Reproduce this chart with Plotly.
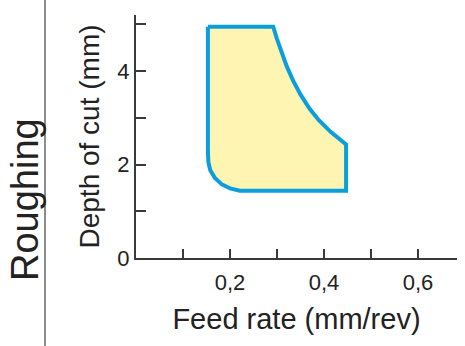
import plotly.graph_objects as go

# Boundary of the roughing window (feed rate mm/rev, depth of cut mm)
feed = [0.153, 0.292, 0.2995, 0.3094, 0.3208, 0.3340, 0.3499, 0.3691, 0.3891, 0.4141, 0.447,
        0.447, 0.221, 0.200, 0.182, 0.168, 0.158, 0.154, 0.153, 0.153]
depth = [4.95, 4.95, 4.70, 4.40, 4.10, 3.80, 3.50, 3.20, 2.95, 2.70, 2.43,
         1.44, 1.44, 1.49, 1.58, 1.71, 1.88, 2.05, 2.27, 4.95]

x_tickvals = [0.1, 0.2, 0.3, 0.4, 0.5, 0.6]
x_ticktext = ["", "0,2", "", "0,4", "", "0,6"]
y_tickvals = [0, 1, 2, 3, 4, 5]
y_ticktext = ["0", "", "2", "", "4", ""]

FONT = "Liberation Sans, Arial, sans-serif"
AX = "#3a3a3a"

fig = go.Figure()
fig.add_trace(go.Scatter(
    x=feed, y=depth, mode="lines", fill="toself",
    fillcolor="#FFF5B2", line=dict(color="#0A9FDC", width=4),
    hoverinfo="skip", showlegend=False,
))

fig.update_layout(
    width=465, height=346,
    margin=dict(l=136, r=8, t=15, b=88),
    paper_bgcolor="white", plot_bgcolor="white",
    font=dict(family=FONT, color="#222222"),
    xaxis=dict(
        range=[0, 0.683], showgrid=False, zeroline=False,
        showline=True, linecolor=AX, linewidth=2,
        ticks="inside", ticklen=9, tickwidth=1.5, tickcolor=AX,
        tickvals=x_tickvals, ticktext=x_ticktext, ticklabelstandoff=4,
        tickfont=dict(size=22, family=FONT, color="#222"),
        title=dict(text="Feed rate (mm/rev)", font=dict(size=29, family=FONT, color="#222"), standoff=14),
    ),
    yaxis=dict(
        range=[0, 5.2], showgrid=False, zeroline=False,
        showline=True, linecolor=AX, linewidth=2,
        ticks="inside", ticklen=10, tickwidth=1.5, tickcolor=AX,
        tickvals=y_tickvals, ticktext=y_ticktext,
        tickfont=dict(size=22, family=FONT, color="#222"),
        title=dict(text="Depth of cut (mm)", font=dict(size=28, family=FONT, color="#222"), standoff=10),
    ),
    shapes=[dict(type="line", xref="paper", yref="paper",
                 x0=(45 - 136) / 321, x1=(45 - 136) / 321, y0=1.07, y1=-0.37,
                 line=dict(color="#666666", width=1.5))],
    annotations=[dict(text="Roughing", xref="paper", yref="paper",
                      x=(25 - 136) / 321, y=(258 - 200) / 243,
                      xanchor="center", yanchor="middle", textangle=-90,
                      showarrow=False, font=dict(size=38, family=FONT, color="#222"))],
)

fig.write_html("out.html")
